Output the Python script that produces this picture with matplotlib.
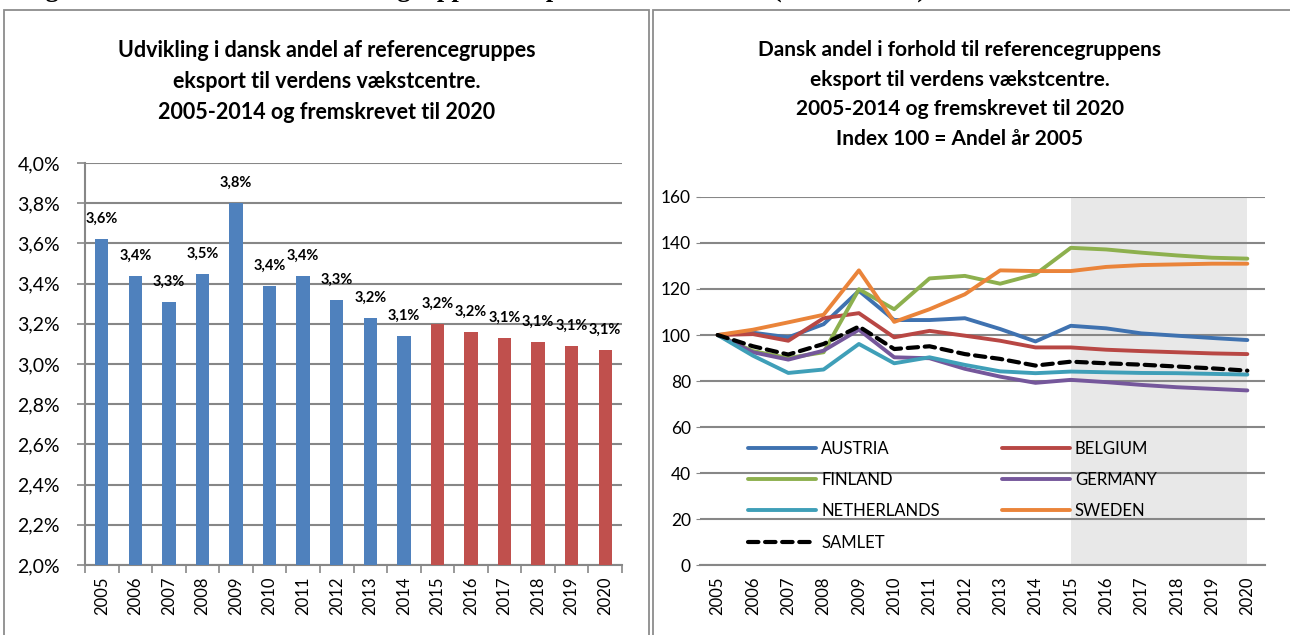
import numpy as np
import matplotlib
matplotlib.use("Agg")
import matplotlib.pyplot as plt
from matplotlib.patches import Rectangle

plt.rcParams["font.family"] = ["Lato", "DejaVu Sans"]

# venstre figur: dansk andel (pct.)
years = [str(y) for y in range(2005, 2021)]
andel = [3.62, 3.44, 3.31, 3.45, 3.80, 3.39, 3.44, 3.32, 3.23, 3.14,
         3.20, 3.16, 3.13, 3.11, 3.09, 3.07]
andel_labels = ["3,6%", "3,4%", "3,3%", "3,5%", "3,8%", "3,4%", "3,4%", "3,3%",
                "3,2%", "3,1%", "3,2%", "3,2%", "3,1%", "3,1%", "3,1%", "3,1%"]
n_hist = 10  # 2005-2014 historisk, resten fremskrevet

# hoejre figur: index 100 = andel 2005
austria = [100, 101, 99, 104.7, 119.2, 106.5, 106.5, 107.3, 102.6, 97.2,
           104, 102.9, 100.7, 99.7, 98.7, 97.8]
belgium = [100, 100.4, 97.5, 107.3, 109.5, 99, 101.8, 99.7, 97.5, 94.6,
           94.6, 93.6, 93, 92.5, 92, 91.7]
finland = [100, 93, 90, 92.5, 119.9, 111.2, 124.6, 125.7, 122.3, 126.4,
           137.9, 137.2, 135.8, 134.6, 133.6, 133.2]
germany = [100, 92.5, 89.3, 93.2, 102.3, 90.3, 89.9, 85.3, 81.9, 79.2,
           80.5, 79.5, 78.3, 77.3, 76.6, 75.9]
netherlands = [100, 91, 83.5, 85, 96.1, 87.7, 90.3, 87, 84.2, 83.4,
               84.1, 83.8, 83.5, 83.4, 83.1, 82.8]
sweden = [100, 102.3, 105.5, 108.8, 128.1, 105.7, 111.2, 117.7, 128.1, 127.8,
          127.8, 129.6, 130.4, 130.7, 131, 131]
samlet = [100, 95.1, 91.5, 96.1, 103.7, 93.9, 95.1, 91.7, 89.6, 86.7,
          88.4, 87.7, 87.1, 86.3, 85.5, 84.5]

W, H = 1290, 635
fig = plt.figure(figsize=(W / 100, H / 100), dpi=100)

grid_col = "#878787"

# afskaaret overskrift oeverst (kun underste del ses)
fig.text(22 / W, 1 + 3 / H, "Figur 4. Dansk andel af referencegruppens eksport til vækstcentre (vækstcentre)",
         family=["Liberation Serif", "DejaVu Serif"], fontweight="bold", fontsize=19,
         va="baseline", ha="left")

# rammer om de to paneler
for x0, x1 in [(4, 649), (653, 1294)]:
    fig.patches.append(Rectangle((x0 / W, -0.05), (x1 - x0) / W, (H - 10) / H + 0.05,
                                 transform=fig.transFigure, fill=False,
                                 edgecolor="#8c8c8c", linewidth=1.3))

# ---------- venstre: soejler ----------
ax1 = fig.add_axes([85 / W, 70 / H, 537 / W, 402 / H])
x = np.arange(len(years))
colors = ["#4F81BD"] * n_hist + ["#C0504D"] * (len(years) - n_hist)
ax1.bar(x, [v - 2.0 for v in andel], bottom=2.0, width=0.4, color=colors, zorder=3)
for xi, v, lab in zip(x, andel, andel_labels):
    ax1.text(xi, v + 0.1, lab, ha="center", va="center", fontsize=10.5, fontweight="bold")

ax1.set_xlim(-0.5, len(years) - 0.5)
ax1.set_ylim(2.0, 4.0)
ax1.set_yticks(np.arange(2.0, 4.01, 0.2))
ax1.set_yticklabels([f"{v:.1f}%".replace(".", ",") for v in np.arange(2.0, 4.01, 0.2)], fontsize=14)
ax1.yaxis.grid(True, color=grid_col, linewidth=1.5, zorder=0)
ax1.set_xticks(x)
ax1.set_xticklabels(years, rotation=90, fontsize=12)
ax1.set_xticks(np.arange(-0.5, len(years)), minor=True)
ax1.tick_params(axis="x", which="major", length=0, pad=8)
ax1.tick_params(axis="x", which="minor", length=6, color=grid_col, width=1.2, direction="out")
ax1.tick_params(axis="y", length=6, color=grid_col, width=1.2, pad=12)
for s in ["top", "right"]:
    ax1.spines[s].set_visible(False)
for s in ["left", "bottom"]:
    ax1.spines[s].set_color(grid_col)
    ax1.spines[s].set_linewidth(1.5)
fig.text(327 / W, 1 - 40 / H,
         "Udvikling i dansk andel af referencegruppes\neksport til verdens vækstcentre.\n2005-2014 og fremskrevet til 2020",
         ha="center", va="top", fontsize=15.5, fontweight="bold", linespacing=1.6)

# ---------- hoejre: linjer ----------
ax2 = fig.add_axes([700 / W, 70 / H, 565 / W, 368 / H])
ax2.axvspan(n_hist, len(years) - 1, color="#E8E8E8", zorder=0, linewidth=0)
series = [("AUSTRIA", austria, "#3F72B0"), ("BELGIUM", belgium, "#B84744"),
          ("FINLAND", finland, "#8DB04E"), ("GERMANY", germany, "#75579B"),
          ("NETHERLANDS", netherlands, "#3F9FB8"), ("SWEDEN", sweden, "#EA843A")]
handles = {}
for name, vals, col in series:
    handles[name], = ax2.plot(x, vals, color=col, linewidth=2.8, label=name, zorder=3,
                              solid_capstyle="round", solid_joinstyle="round")
handles["SAMLET"], = ax2.plot(x, samlet, color="black", linewidth=3, linestyle=(0, (2.5, 1.6)),
                              label="SAMLET", zorder=4, dash_capstyle="round")

ax2.set_xlim(-0.5, len(years) - 0.5)
ax2.set_ylim(0, 160)
ax2.set_yticks(np.arange(0, 161, 20))
ax2.tick_params(axis="y", labelsize=12.5, length=3, color=grid_col)
ax2.yaxis.grid(True, color=grid_col, linewidth=1.5, zorder=1)
ax2.set_axisbelow(True)
ax2.set_xticks(x)
ax2.set_xticklabels(years, rotation=90, fontsize=12)
ax2.tick_params(axis="x", length=0, pad=8)
for s in ["top", "right", "left"]:
    ax2.spines[s].set_visible(False)
ax2.spines["bottom"].set_color(grid_col)
ax2.spines["bottom"].set_linewidth(1.5)

order = ["AUSTRIA", "FINLAND", "NETHERLANDS", "SAMLET", "BELGIUM", "GERMANY", "SWEDEN"]
hl = [handles[k] for k in order]
# tom plads i anden kolonne
blank, = ax2.plot([], [], color="none")
hl.append(blank)
labs = order + [""]
ax2.legend(hl, labs, ncol=2, loc="upper left", bbox_to_anchor=(0.085, 0.338),
           frameon=False, fontsize=12, handlelength=4.1, columnspacing=3.7,
           labelspacing=0.92, handletextpad=0.3, borderaxespad=0, borderpad=0)

fig.text(960 / W, 1 - 40 / H,
         "Dansk andel i forhold til referencegruppens\neksport til verdens vækstcentre.\n2005-2014 og fremskrevet til 2020\nIndex 100 = Andel år 2005",
         ha="center", va="top", fontsize=15, fontweight="bold", linespacing=1.6)

fig.savefig("out.png", dpi=100)
